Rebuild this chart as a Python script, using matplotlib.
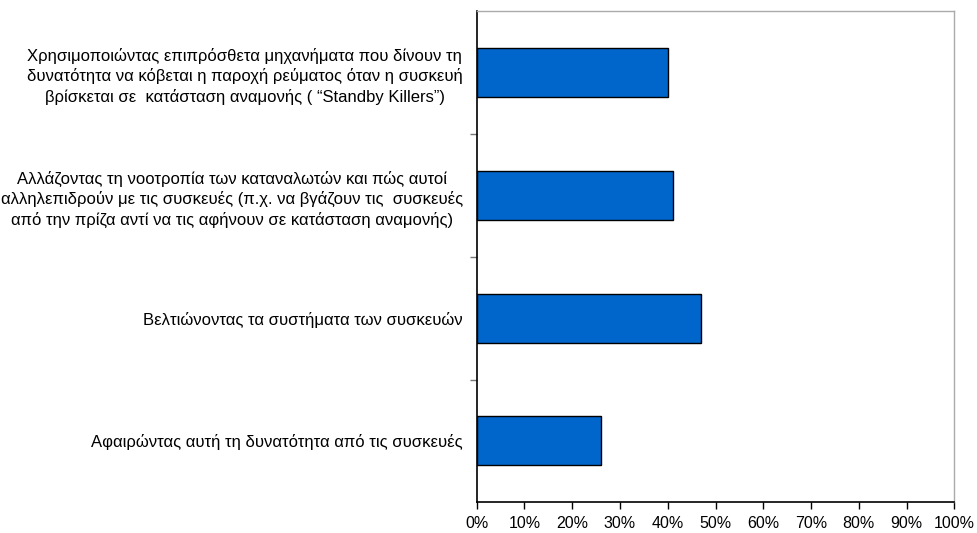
import numpy as np
import matplotlib.pyplot as plt
from matplotlib.ticker import FixedLocator, FuncFormatter

plt.rcParams['font.family'] = ['Liberation Sans', 'DejaVu Sans']

labels = [
    "Χρησιμοποιώντας επιπρόσθετα μηχανήματα που δίνουν τη\n"
    "δυνατότητα να κόβεται η παροχή ρεύματος όταν η συσκευή\n"
    "βρίσκεται σε  κατάσταση αναμονής ( “Standby Killers”)",
    "Αλλάζοντας τη νοοτροπία των καταναλωτών και πώς αυτοί\n"
    "αλληλεπιδρούν με τις συσκευές (π.χ. να βγάζουν τις  συσκευές\n"
    "από την πρίζα αντί να τις αφήνουν σε κατάσταση αναμονής)",
    "Βελτιώνοντας τα συστήματα των συσκευών",
    "Αφαιρώντας αυτή τη δυνατότητα από τις συσκευές",
]
values = [40, 41, 47, 26]
xticks = [0, 10, 20, 30, 40, 50, 60, 70, 80, 90, 100]

fig = plt.figure(figsize=(9.77, 5.33), dpi=100)
ax = fig.add_axes([0.4879, 0.0576, 0.4889, 0.9212])

y = np.arange(len(values))[::-1]
ax.barh(y, values, height=0.4, color='#0066CC', edgecolor='black', linewidth=1)

ax.set_xlim(0, 100)
ax.set_ylim(-0.5, len(values) - 0.5)
ax.set_xticks(xticks)
ax.xaxis.set_major_formatter(FuncFormatter(lambda v, p: f"{int(v)}%"))
ax.tick_params(axis='x', direction='out', length=5, width=1, labelsize=11.5, pad=5)

ax.set_yticks(y)
ax.set_yticklabels(labels, multialignment='center', fontsize=12, linespacing=1.35)
ax.tick_params(axis='y', which='major', length=0, pad=10)
ax.yaxis.set_minor_locator(FixedLocator([0.5, 1.5, 2.5]))
ax.tick_params(axis='y', which='minor', direction='out', length=5, width=1, color='#777777')

for s in ['left', 'bottom']:
    ax.spines[s].set_color('black')
    ax.spines[s].set_linewidth(1.2)
for s in ['top', 'right']:
    ax.spines[s].set_color('#aaaaaa')
    ax.spines[s].set_linewidth(1)

fig.savefig('out.png', dpi=100)
